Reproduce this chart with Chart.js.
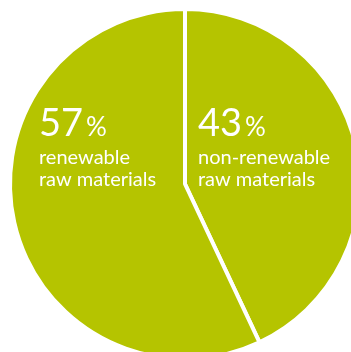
<!DOCTYPE html>
<html>
<head>
<meta charset="utf-8">
<script src="https://cdn.jsdelivr.net/npm/chart.js@4"></script>
<style>
  html, body { margin: 0; padding: 0; background: #fff; overflow: hidden; }
  #wrap { width: 351px; height: 352px; overflow: hidden; }
</style>
</head>
<body>
<div id="wrap"><canvas id="rawPie" width="370" height="368"></canvas></div>
<script>
// shares of raw materials, clockwise from the top
const categories = ["non-renewable", "renewable"];
const shares = [43, 57];
const subLabel = "raw materials";

const green = "#b5c400";

// draws "43%  non-renewable / raw materials" inside each slice
const sliceLabels = {
    id: "sliceLabels",
    afterDatasetsDraw(chart) {
        const ctx = chart.ctx;
        const arc = chart.getDatasetMeta(0).data[0];
        const cx = arc.x, cy = arc.y;
        // left edge of each text block relative to the centre
        const offsetX = [13, -146];
        const fontName = "Lato, 'Noto Sans', sans-serif";
        ctx.save();
        ctx.fillStyle = "#fff";
        ctx.textAlign = "left";
        ctx.textBaseline = "alphabetic";
        shares.forEach(function(v, i) {
            const x = cx + offsetX[i];
            ctx.font = "38px " + fontName;
            const num = String(v);
            ctx.fillText(num, x, cy - 48);
            const w = ctx.measureText(num).width;
            ctx.font = "26px " + fontName;
            ctx.fillText("%", x + w + 3, cy - 48);
            ctx.font = "20px " + fontName;
            ctx.fillText(categories[i], x, cy - 20);
            ctx.fillText(subLabel, x, cy + 2);
        });
        ctx.restore();
    }
};

new Chart(document.getElementById("rawPie").getContext("2d"), {
    type: "pie",
    data: {
        labels: categories,
        datasets: [{
            data: shares,
            backgroundColor: [green, green],
            borderColor: "#fff",
            borderWidth: 4,
        }],
    },
    options: {
        responsive: false,
        animation: false,
        radius: 175,
        layout: { padding: 0 },
        plugins: {
            legend: { display: false },
            tooltip: { enabled: false },
        },
    },
    plugins: [sliceLabels],
});
</script>
</body>
</html>
